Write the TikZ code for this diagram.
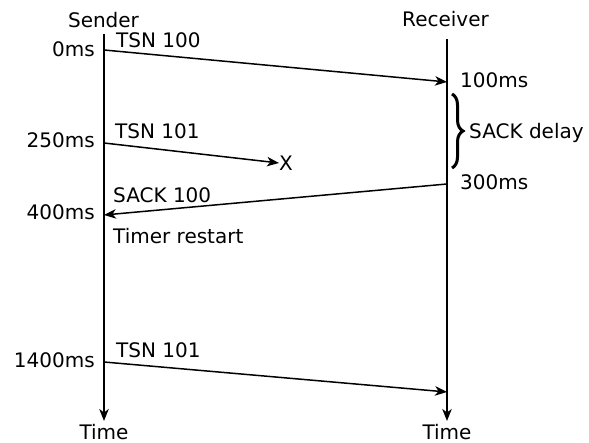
\documentclass[tikz,border=0pt]{standalone}
\usepackage{fontspec}
\setmainfont{DejaVu Sans}
\usetikzlibrary{arrows.meta,decorations.pathreplacing}
\begin{document}
\begin{tikzpicture}[x=1pt,y=-1pt,
  every node/.style={font=\fontsize{20pt}{23pt}\selectfont, inner sep=0pt},
  tip/.style={-{Stealth[length=12pt,width=9.5pt,inset=3.5pt]}},
  lifeline/.style={tip, line width=1.5pt},
  msg/.style={tip, line width=1.5pt},
  lbl/.style={anchor=base west},
  tlbl/.style={anchor=base east}]
\useasboundingbox (0,0) rectangle (589,443);

% lifeline heads and ends
\node[anchor=base] (snd) at (103.5,28) {Sender};
\node[anchor=base] (rcv) at (445.5,27) {Receiver};
\coordinate (stop) at (104,34);
\coordinate (rtop) at (447,39);
\coordinate (sbot) at (104,421);
\coordinate (rbot) at (447,421);
\node[anchor=base] (stime) at (104,439) {Time};
\node[anchor=base] (rtime) at (447,439) {Time};
\draw[lifeline] (stop) -- (sbot);
\draw[lifeline] (rtop) -- (rbot);

% message end points
\coordinate (s0) at (104,50);
\coordinate (r100) at (447,82);
\coordinate (s250) at (104,143);
\coordinate (r300) at (447,184);
\coordinate (s400) at (104,215);
\coordinate (s1400) at (104,362);
\coordinate (r1400) at (447,392);
\node[anchor=west] (lost) at (279,163) {X};

% messages
\draw[msg] (s0) -- (r100);
\draw[msg] (s250) -- (lost.west);
\draw[msg] (r300) -- (s400);
\draw[msg] (s1400) -- (r1400);

% time stamps
\node[tlbl] (t0) at (95,57) {0ms};
\node[tlbl] (t250) at (95,148) {250ms};
\node[tlbl] (t400) at (95,220) {400ms};
\node[tlbl] (t1400) at (95,368) {1400ms};
\node[lbl] (t100) at (460,88) {100ms};
\node[lbl] (t300) at (460,190) {300ms};

% message labels
\node[lbl] (m1) at (116,48) {TSN 100};
\node[lbl] (m2) at (115,139) {TSN 101};
\node[lbl] (m3) at (113,203) {SACK 100};
\node[lbl] (note) at (113,244) {Timer restart};
\node[lbl] (m4) at (116,358) {TSN 101};

% delayed acknowledgement
\coordinate (btop) at (452,94);
\coordinate (bbot) at (452,168);
\draw[line width=3pt, decorate, decoration={brace, amplitude=11pt}] (btop) -- (bbot);
\node[lbl] (delay) at (469,139) {SACK delay};
\end{tikzpicture}
\end{document}
